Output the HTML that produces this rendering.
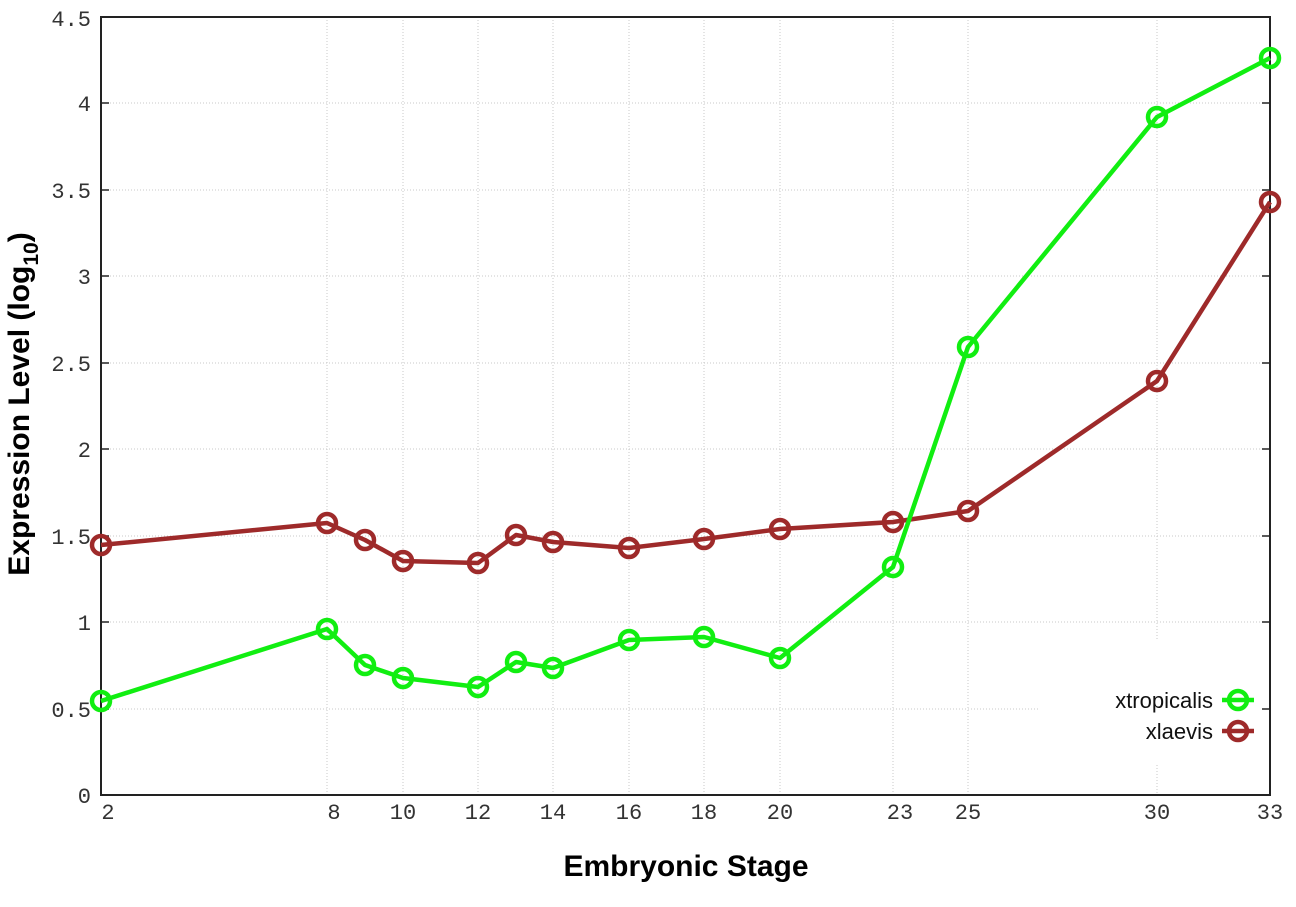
<!DOCTYPE html>
<html><head><meta charset="utf-8"><style>body{margin:0;background:#fff}svg{display:block}</style></head><body>
<svg width="1296" height="907" xmlns="http://www.w3.org/2000/svg">
<rect width="1296" height="907" fill="#fff"/>
<g stroke="#c8c8c8" stroke-width="1" stroke-dasharray="1,2">
<line x1="101" x2="1270" y1="103" y2="103"/><line x1="101" x2="1270" y1="190" y2="190"/><line x1="101" x2="1270" y1="276" y2="276"/><line x1="101" x2="1270" y1="363" y2="363"/><line x1="101" x2="1270" y1="449" y2="449"/><line x1="101" x2="1270" y1="536" y2="536"/><line x1="101" x2="1270" y1="622" y2="622"/><line x1="101" x2="1040" y1="709" y2="709"/>
<line x1="327" x2="327" y1="17" y2="795"/><line x1="403" x2="403" y1="17" y2="795"/><line x1="478" x2="478" y1="17" y2="795"/><line x1="553" x2="553" y1="17" y2="795"/><line x1="629" x2="629" y1="17" y2="795"/><line x1="704" x2="704" y1="17" y2="795"/><line x1="780" x2="780" y1="17" y2="795"/><line x1="893" x2="893" y1="17" y2="795"/><line x1="968" x2="968" y1="17" y2="795"/><line x1="1157" x2="1157" y1="17" y2="640"/><line x1="1157" x2="1157" y1="765" y2="795"/>
</g>
<rect x="101" y="17" width="1169" height="778" fill="none" stroke="#222" stroke-width="2"/>
<g stroke="#222" stroke-width="1.5">
<line x1="101" x2="109" y1="103" y2="103"/><line x1="101" x2="109" y1="190" y2="190"/><line x1="101" x2="109" y1="276" y2="276"/><line x1="101" x2="109" y1="363" y2="363"/><line x1="101" x2="109" y1="449" y2="449"/><line x1="101" x2="109" y1="536" y2="536"/><line x1="101" x2="109" y1="622" y2="622"/><line x1="101" x2="109" y1="709" y2="709"/>
<line x1="1262" x2="1270" y1="103" y2="103"/><line x1="1262" x2="1270" y1="190" y2="190"/><line x1="1262" x2="1270" y1="276" y2="276"/><line x1="1262" x2="1270" y1="363" y2="363"/><line x1="1262" x2="1270" y1="449" y2="449"/><line x1="1262" x2="1270" y1="536" y2="536"/><line x1="1262" x2="1270" y1="622" y2="622"/><line x1="1262" x2="1270" y1="709" y2="709"/>
</g>
<g font-family="Liberation Mono, monospace" font-size="22" fill="#333" text-anchor="end">
<text x="91" y="26">4.5</text><text x="91" y="111">4</text><text x="91" y="198">3.5</text><text x="91" y="284">3</text><text x="91" y="371">2.5</text><text x="91" y="457">2</text><text x="91" y="544">1.5</text><text x="91" y="630">1</text><text x="91" y="717">0.5</text><text x="91" y="803">0</text>
</g>
<g font-family="Liberation Mono, monospace" font-size="22" fill="#333" text-anchor="middle">
<text x="108" y="819">2</text><text x="334" y="819">8</text><text x="403" y="819">10</text><text x="478" y="819">12</text><text x="553" y="819">14</text><text x="629" y="819">16</text><text x="704" y="819">18</text><text x="780" y="819">20</text><text x="900" y="819">23</text><text x="968" y="819">25</text><text x="1157" y="819">30</text><text x="1270" y="819">33</text>
</g>
<text x="686" y="876" font-family="Liberation Sans, sans-serif" font-size="30" font-weight="bold" text-anchor="middle" fill="#000">Embryonic Stage</text>
<text transform="translate(29,404) rotate(-90)" font-family="Liberation Sans, sans-serif" font-size="30" font-weight="bold" text-anchor="middle" fill="#000">Expression Level (log<tspan font-size="21" dy="9">10</tspan><tspan dy="-9">)</tspan></text>
<g fill="none" stroke-width="4.5" stroke-linejoin="round">
<polyline stroke="#9e2a2a" points="101,545 327,523 365,540 403,561 478,563 516,535 553,542 629,548 704,539 780,529 893,522 968,511 1157,381 1270,202"/>
<g stroke="#9e2a2a"><circle cx="101" cy="545" r="9"/><circle cx="327" cy="523" r="9"/><circle cx="365" cy="540" r="9"/><circle cx="403" cy="561" r="9"/><circle cx="478" cy="563" r="9"/><circle cx="516" cy="535" r="9"/><circle cx="553" cy="542" r="9"/><circle cx="629" cy="548" r="9"/><circle cx="704" cy="539" r="9"/><circle cx="780" cy="529" r="9"/><circle cx="893" cy="522" r="9"/><circle cx="968" cy="511" r="9"/><circle cx="1157" cy="381" r="9"/><circle cx="1270" cy="202" r="9"/></g>
<polyline stroke="#11ee11" points="101,701 327,629 365,665 403,678 478,687 516,662 553,668 629,640 704,637 780,658 893,567 968,347 1157,117 1270,58"/>
<g stroke="#11ee11"><circle cx="101" cy="701" r="9"/><circle cx="327" cy="629" r="9"/><circle cx="365" cy="665" r="9"/><circle cx="403" cy="678" r="9"/><circle cx="478" cy="687" r="9"/><circle cx="516" cy="662" r="9"/><circle cx="553" cy="668" r="9"/><circle cx="629" cy="640" r="9"/><circle cx="704" cy="637" r="9"/><circle cx="780" cy="658" r="9"/><circle cx="893" cy="567" r="9"/><circle cx="968" cy="347" r="9"/><circle cx="1157" cy="117" r="9"/><circle cx="1270" cy="58" r="9"/></g>
<line x1="1222" x2="1254" y1="700" y2="700" stroke="#11ee11"/><circle cx="1238" cy="700" r="9" stroke="#11ee11"/>
<line x1="1222" x2="1254" y1="731" y2="731" stroke="#9e2a2a"/><circle cx="1238" cy="731" r="9" stroke="#9e2a2a"/>
</g>
<g font-family="Liberation Sans, sans-serif" font-size="22" fill="#111" text-anchor="end">
<text x="1213" y="708">xtropicalis</text><text x="1213" y="739">xlaevis</text>
</g>
</svg>
</body></html>
